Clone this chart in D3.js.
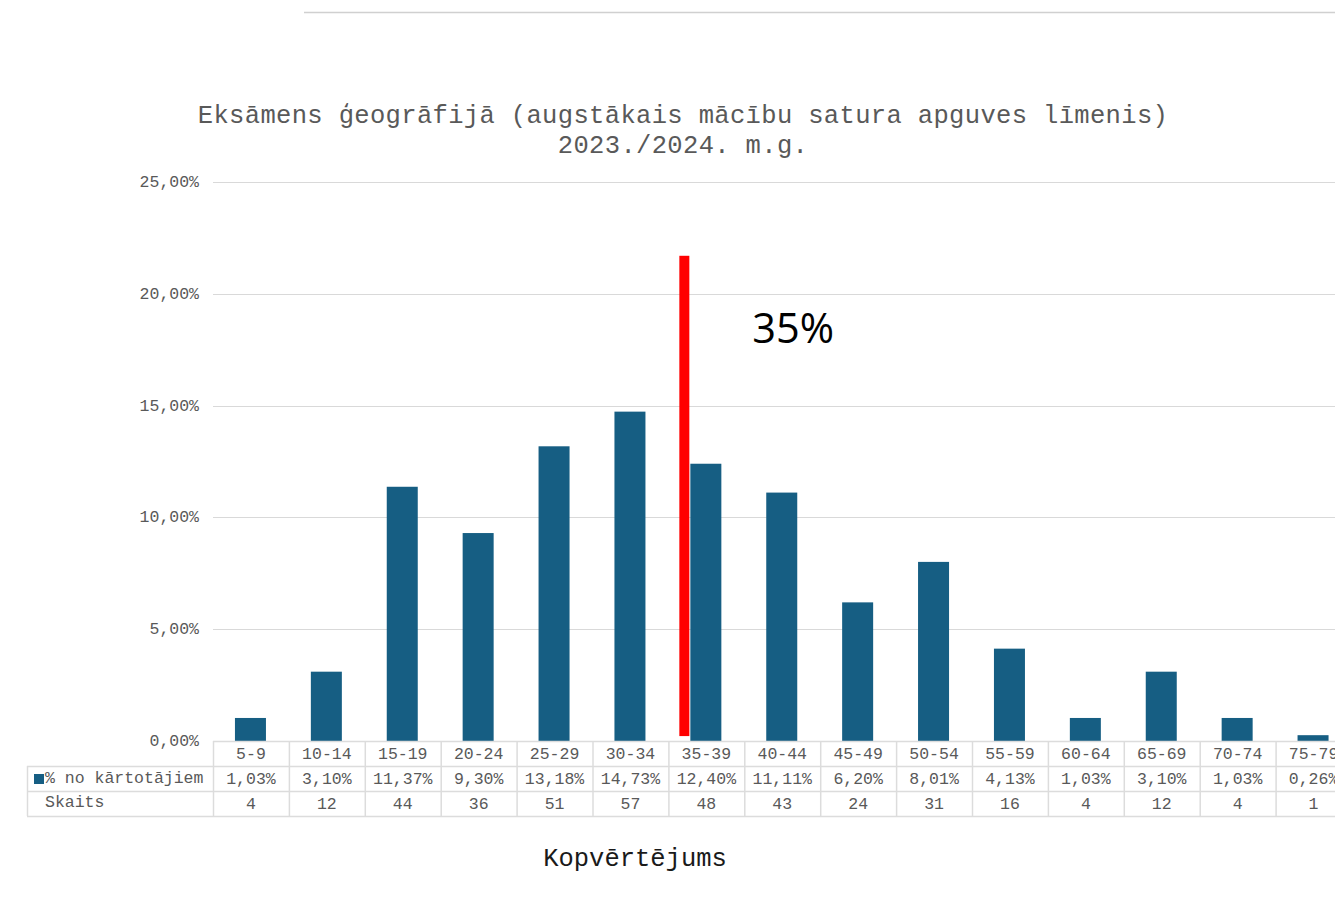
<!DOCTYPE html>
<html><head><meta charset="utf-8">
<script src="https://cdn.jsdelivr.net/npm/d3@7"></script>
<style>body{margin:0;background:#fff;overflow:hidden}svg{display:block}</style>
</head><body>
<script>
const categories = ["5-9","10-14","15-19","20-24","25-29","30-34","35-39","40-44","45-49","50-54","55-59","60-64","65-69","70-74","75-79"];
const percentValues = [1.03,3.10,11.37,9.30,13.18,14.73,12.40,11.11,6.20,8.01,4.13,1.03,3.10,1.03,0.26];
const counts = [4,12,44,36,51,57,48,43,24,31,16,4,12,4,1];
const yTicks = [0,5,10,15,20,25];
const titleLines = ["Eksāmens ģeogrāfijā (augstākais mācību satura apguves līmenis)","2023./2024. m.g."];
const seriesName = "% no kārtotājiem";
const countName = "Skaits";
const xTitle = "Kopvērtējums";
const thresholdLabel = "35%";
const thresholdCategory = "35-39";

const W = 1335, H = 899;
const mono = "'Liberation Mono', 'DejaVu Sans Mono', monospace";
const svg = d3.select("body").append("svg").attr("width", W).attr("height", H);

const plotLeft = 213, bandW = 75.9;
const x = d3.scaleBand().domain(categories).range([plotLeft, plotLeft + bandW * categories.length]).padding(0);
const y = d3.scaleLinear().domain([0, 25]).range([741, 182]);

// top decorative line
svg.append("line").attr("x1", 304).attr("x2", W).attr("y1", 12.5).attr("y2", 12.5).attr("stroke", "#d0d0d0").attr("stroke-width", 1.5);

// title
svg.append("text").attr("x", 683).attr("y", 123).attr("text-anchor", "middle")
  .attr("font-family", mono).attr("font-size", 25.5).attr("fill", "#595959").attr("letter-spacing", 0.35)
  .selectAll("tspan").data(titleLines).join("tspan")
  .attr("x", 683).attr("dy", (d, i) => i ? 30 : 0).text(d => d);

// grid
svg.append("g").selectAll("line").data(yTicks.filter(d => d > 0)).join("line")
  .attr("x1", plotLeft).attr("x2", W).attr("y1", d => Math.round(y(d)) + 0.5).attr("y2", d => Math.round(y(d)) + 0.5)
  .attr("stroke", "#d9d9d9").attr("stroke-width", 1);

// y axis labels
const fmt = d => d3.format(".2f")(d).replace(".", ",") + "%";
svg.append("g").selectAll("text").data(yTicks).join("text")
  .attr("x", 199).attr("y", d => y(d) + 5).attr("text-anchor", "end")
  .attr("font-family", mono).attr("font-size", 16.5).attr("fill", "#595959").text(fmt);

// bars
const barW = 31;
svg.append("g").selectAll("rect").data(categories).join("rect")
  .attr("x", d => x(d) + x.bandwidth() / 2 - barW / 2 - 0.5)
  .attr("y", (d, i) => y(percentValues[i]))
  .attr("width", barW)
  .attr("height", (d, i) => y(0) - y(percentValues[i]))
  .attr("fill", "#165e83");

// data table
const rowH = 25, tTop = 741, tableLeft = 27;
const tg = svg.append("g");
const gridColor = "#dcdcdc";
tg.append("line").attr("x1", plotLeft).attr("x2", W).attr("y1", tTop + 0.5).attr("y2", tTop + 0.5).attr("stroke", gridColor).attr("stroke-width", 1.5);
[1, 2, 3].forEach(r => {
  tg.append("line").attr("x1", tableLeft).attr("x2", W).attr("y1", tTop + r * rowH + 0.5).attr("y2", tTop + r * rowH + 0.5).attr("stroke", gridColor).attr("stroke-width", 1.5);
});
tg.append("line").attr("x1", tableLeft + 0.5).attr("x2", tableLeft + 0.5).attr("y1", tTop + rowH).attr("y2", tTop + 3 * rowH).attr("stroke", gridColor).attr("stroke-width", 1.5);
tg.selectAll("line.v").data(categories).join("line").attr("class", "v")
  .attr("x1", d => x(d) + 0.5).attr("x2", d => x(d) + 0.5)
  .attr("y1", tTop).attr("y2", tTop + 3 * rowH).attr("stroke", gridColor).attr("stroke-width", 1.5);

const cellText = (row, accessor) => tg.append("g").selectAll("text").data(categories).join("text")
  .attr("x", d => x(d) + x.bandwidth() / 2).attr("y", tTop + row * rowH + 18)
  .attr("text-anchor", "middle").attr("font-family", mono).attr("font-size", 16.5).attr("fill", "#595959")
  .text(accessor);
cellText(0, d => d);
cellText(1, (d, i) => d3.format(".2f")(percentValues[i]).replace(".", ",") + "%");
cellText(2, (d, i) => counts[i]);

tg.append("rect").attr("x", 34).attr("y", tTop + rowH + 8).attr("width", 10).attr("height", 10).attr("fill", "#165e83");
tg.append("text").attr("x", 45).attr("y", tTop + rowH + 17).attr("font-family", mono).attr("font-size", 16.5).attr("fill", "#595959").text(seriesName);
tg.append("text").attr("x", 45).attr("y", tTop + 2 * rowH + 16).attr("font-family", mono).attr("font-size", 16.5).attr("fill", "#595959").text(countName);

// x title
svg.append("text").attr("x", 635).attr("y", 866).attr("text-anchor", "middle")
  .attr("font-family", mono).attr("font-size", 25.5).attr("fill", "#1a1a1a").text(xTitle);

// threshold marker
const tx = x(thresholdCategory) + x.bandwidth() * 0.21;
svg.append("rect").attr("x", tx - 5).attr("y", y(21.7)).attr("width", 10).attr("height", y(0.22) - y(21.7)).attr("fill", "#ff0000");
svg.append("text").attr("x", tx + 68).attr("y", 343).attr("font-family", "'Open Sans', 'Liberation Sans', sans-serif")
  .attr("font-size", 41.5).attr("fill", "#000").text(thresholdLabel);
</script>
</body></html>
